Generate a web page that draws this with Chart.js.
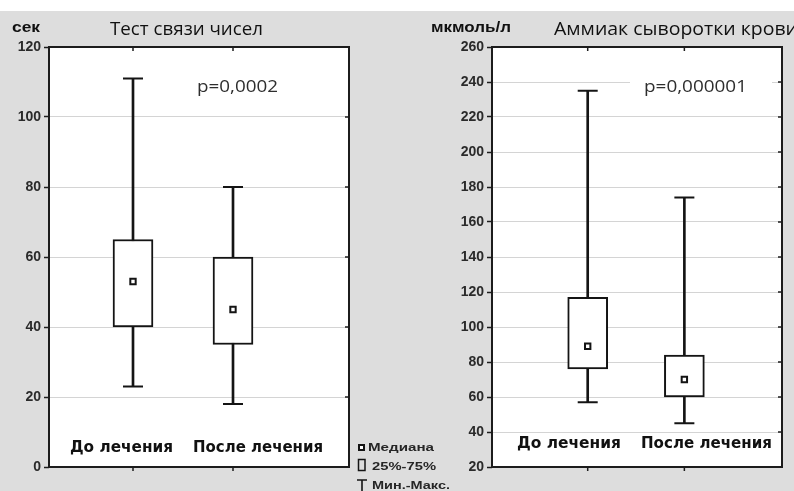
<!DOCTYPE html>
<html>
<head>
<meta charset="utf-8">
<script src="https://cdn.jsdelivr.net/npm/chart.js@4/dist/chart.umd.min.js"></script>
<style>
  html, body { margin: 0; padding: 0; }
  body { width: 794px; height: 491px; background: #dddddd; position: relative; overflow: hidden; }
  #strip { position: absolute; left: 0; top: 0; width: 794px; height: 11px; background: #ffffff; }
  canvas { position: absolute; left: 0; top: 0; }
</style>
</head>
<body>
<div id="strip"></div>
<canvas id="c1" width="794" height="491"></canvas>
<canvas id="c2" width="794" height="491"></canvas>
<script>
// Groups (before / after treatment) and their slots on the x scale
const categories = ['До лечения', 'После лечения'];
const categoryX = [1, 2];

// Number connection test, seconds: min, quartiles, median, max
const testMin = [23, 18];
const testQ1 = [40, 35];
const testMedian = [53, 45];
const testQ3 = [65, 60];
const testMax = [111, 80];
const testTicks = [0, 20, 40, 60, 80, 100, 120];
const testP = 'p=0,0002';

// Serum ammonia, µmol/l: min, quartiles, median, max
const nh3Min = [57, 45];
const nh3Q1 = [76, 60];
const nh3Median = [89, 70];
const nh3Q3 = [117, 84];
const nh3Max = [235, 174];
const nh3Ticks = [20, 40, 60, 80, 100, 120, 140, 160, 180, 200, 220, 240, 260];
const nh3P = 'p=0,000001';

const INK = '#141414';

// Draw text stretched/squeezed to span x0..x1
function drawFitted(ctx, text, x0, x1, baseline, font, color) {
  ctx.save();
  ctx.font = font;
  ctx.fillStyle = color;
  ctx.textAlign = 'left';
  ctx.textBaseline = 'alphabetic';
  const w = ctx.measureText(text).width;
  ctx.translate(x0, baseline);
  ctx.scale((x1 - x0) / w, 1);
  ctx.fillText(text, 0, 0);
  ctx.restore();
}

function boxDatasets(mins, q1, med, q3, maxs) {
  return [
    { // whisker stem min..max
      type: 'bar', order: 3, grouped: false, barThickness: 2,
      data: categoryX.map((x, i) => ({ x, y: [mins[i], maxs[i]] })),
      backgroundColor: INK, borderWidth: 0
    },
    { // interquartile box
      type: 'bar', order: 2, grouped: false, barThickness: 40,
      data: categoryX.map((x, i) => ({ x, y: [q1[i], q3[i]] })),
      backgroundColor: '#ffffff', borderColor: INK, borderWidth: 2, borderSkipped: false
    },
    { // whisker caps
      type: 'line', order: 1, showLine: false, clip: false,
      data: categoryX.flatMap((x, i) => [{ x, y: mins[i] }, { x, y: maxs[i] }]),
      pointStyle: 'line', pointRadius: 10, pointBorderWidth: 2, pointBorderColor: INK
    },
    { // median marker
      type: 'line', order: 0, showLine: false, clip: false,
      data: categoryX.map((x, i) => ({ x, y: med[i] })),
      pointStyle: 'rect', pointRadius: 3.8, pointBorderWidth: 2,
      pointBorderColor: INK, pointBackgroundColor: '#ffffff'
    }
  ];
}

function drawLegend(ctx, a) {
  ctx.save();
  ctx.strokeStyle = INK;
  // median symbol
  ctx.lineWidth = 2;
  ctx.fillStyle = '#ffffff';
  ctx.fillRect(a.right + 10, a.bottom - 22, 5, 5);
  ctx.strokeRect(a.right + 10, a.bottom - 22, 5, 5);
  // box symbol
  ctx.lineWidth = 1.5;
  ctx.strokeRect(a.right + 9.5, a.bottom - 7.5, 6.5, 11);
  // whisker symbol
  ctx.beginPath();
  ctx.moveTo(a.right + 8, a.bottom + 13);
  ctx.lineTo(a.right + 18, a.bottom + 13);
  ctx.moveTo(a.right + 13, a.bottom + 13);
  ctx.lineTo(a.right + 13, a.bottom + 25);
  ctx.lineWidth = 1.6;
  ctx.stroke();
  ctx.restore();
  const f = 'bold 10.5px "Liberation Sans"';
  drawFitted(ctx, 'Медиана', a.right + 19, a.right + 85, a.bottom - 16, f, '#262626');
  drawFitted(ctx, '25%-75%', a.right + 23, a.right + 87, a.bottom + 3, f, '#262626');
  drawFitted(ctx, 'Мин.-Макс.', a.right + 23, a.right + 101, a.bottom + 22, f, '#262626');
}

function panelPlugin(p) {
  return {
    id: 'panel',
    beforeDraw(chart) {
      const { ctx, chartArea: a } = chart;
      ctx.save();
      ctx.fillStyle = '#ffffff';
      ctx.fillRect(a.left, a.top, a.right - a.left, a.bottom - a.top);
      ctx.restore();
    },
    afterDraw(chart) {
      const { ctx, chartArea: a, scales } = chart;
      // p-value label on a white backdrop
      ctx.save();
      ctx.fillStyle = '#ffffff';
      ctx.fillRect(a.left + p.pBox[0], a.top + 28, p.pBox[1] - p.pBox[0], 24);
      ctx.restore();
      drawFitted(ctx, p.pText, a.left + p.pX[0], a.left + p.pX[1], a.top + 45, '15.5px "Open Sans"', '#2e2e2e');

      // frame and minor tick marks
      ctx.save();
      ctx.strokeStyle = '#1c1c1c';
      ctx.lineWidth = 2;
      ctx.strokeRect(a.left, a.top, a.right - a.left, a.bottom - a.top);
      ctx.lineWidth = 1.5;
      ctx.beginPath();
      categoryX.forEach(v => {
        const x = scales.x.getPixelForValue(v);
        ctx.moveTo(x, a.top); ctx.lineTo(x, a.top + 4);
        ctx.moveTo(x, a.bottom); ctx.lineTo(x, a.bottom + 4);
      });
      scales.y.ticks.forEach(t => {
        const y = scales.y.getPixelForValue(t.value);
        ctx.moveTo(a.right, y); ctx.lineTo(a.right - 4, y);
      });
      ctx.stroke();
      ctx.restore();

      // unit, title, group labels
      drawFitted(ctx, p.unit, a.left + p.unitX[0], a.left + p.unitX[1], a.top - 15, 'bold 14px "Liberation Sans"', '#111111');
      drawFitted(ctx, p.title, a.left + p.titleX[0], a.left + p.titleX[1], a.top - 12, '18.5px "Open Sans"', '#111111');
      categories.forEach((c, i) =>
        drawFitted(ctx, c, a.left + p.catX[i][0], a.left + p.catX[i][1], a.bottom - p.catBase, 'bold 16px "DejaVu Sans"', '#111111'));

      if (p.legend) drawLegend(ctx, a);
    }
  };
}

function makeChart(id, datasets, ticks, xRange, padding, yWidth, panel) {
  return new Chart(document.getElementById(id), {
    type: 'bar',
    data: { datasets },
    options: {
      responsive: false,
      animation: false,
      events: [],
      layout: { padding },
      plugins: { legend: { display: false }, tooltip: { enabled: false } },
      scales: {
        x: { type: 'linear', display: false, offset: false, min: xRange[0], max: xRange[1] },
        y: {
          type: 'linear',
          min: ticks[0],
          max: ticks[ticks.length - 1],
          afterBuildTicks: s => { s.ticks = ticks.map(v => ({ value: v })); },
          afterFit: s => { s.width = yWidth; },
          ticks: { color: '#2a2a2a', padding: 3, font: { family: 'Liberation Sans', weight: 'bold', size: 14 } },
          grid: { color: '#d4d4d4', lineWidth: 1, tickColor: '#1c1c1c', tickLength: 5, tickWidth: 1.5 },
          border: { display: false }
        }
      }
    },
    plugins: [panelPlugin(panel)]
  });
}

makeChart('c1',
  boxDatasets(testMin, testQ1, testMedian, testQ3, testMax),
  testTicks, [0.16, 3.16],
  { left: 0, top: 47, right: 445, bottom: 24 }, 49,
  {
    unit: 'сек', unitX: [-37, -9],
    title: 'Тест связи чисел', titleX: [61, 214],
    pText: testP, pX: [148, 229], pBox: [136, 241],
    catX: [[21, 124], [144, 274]], catBase: 15,
    legend: true
  });

makeChart('c2',
  boxDatasets(nh3Min, nh3Q1, nh3Median, nh3Q3, nh3Max),
  nh3Ticks, [0.01, 3.01],
  { left: 442, top: 47, right: 2, bottom: 24 }, 50,
  {
    unit: 'мкмоль/л', unitX: [-61, 19],
    title: 'Аммиак сыворотки крови', titleX: [62, 306],
    pText: nh3P, pX: [152, 255], pBox: [138, 280],
    catX: [[25, 129], [149, 280]], catBase: 19,
    legend: false
  });
</script>
</body>
</html>
